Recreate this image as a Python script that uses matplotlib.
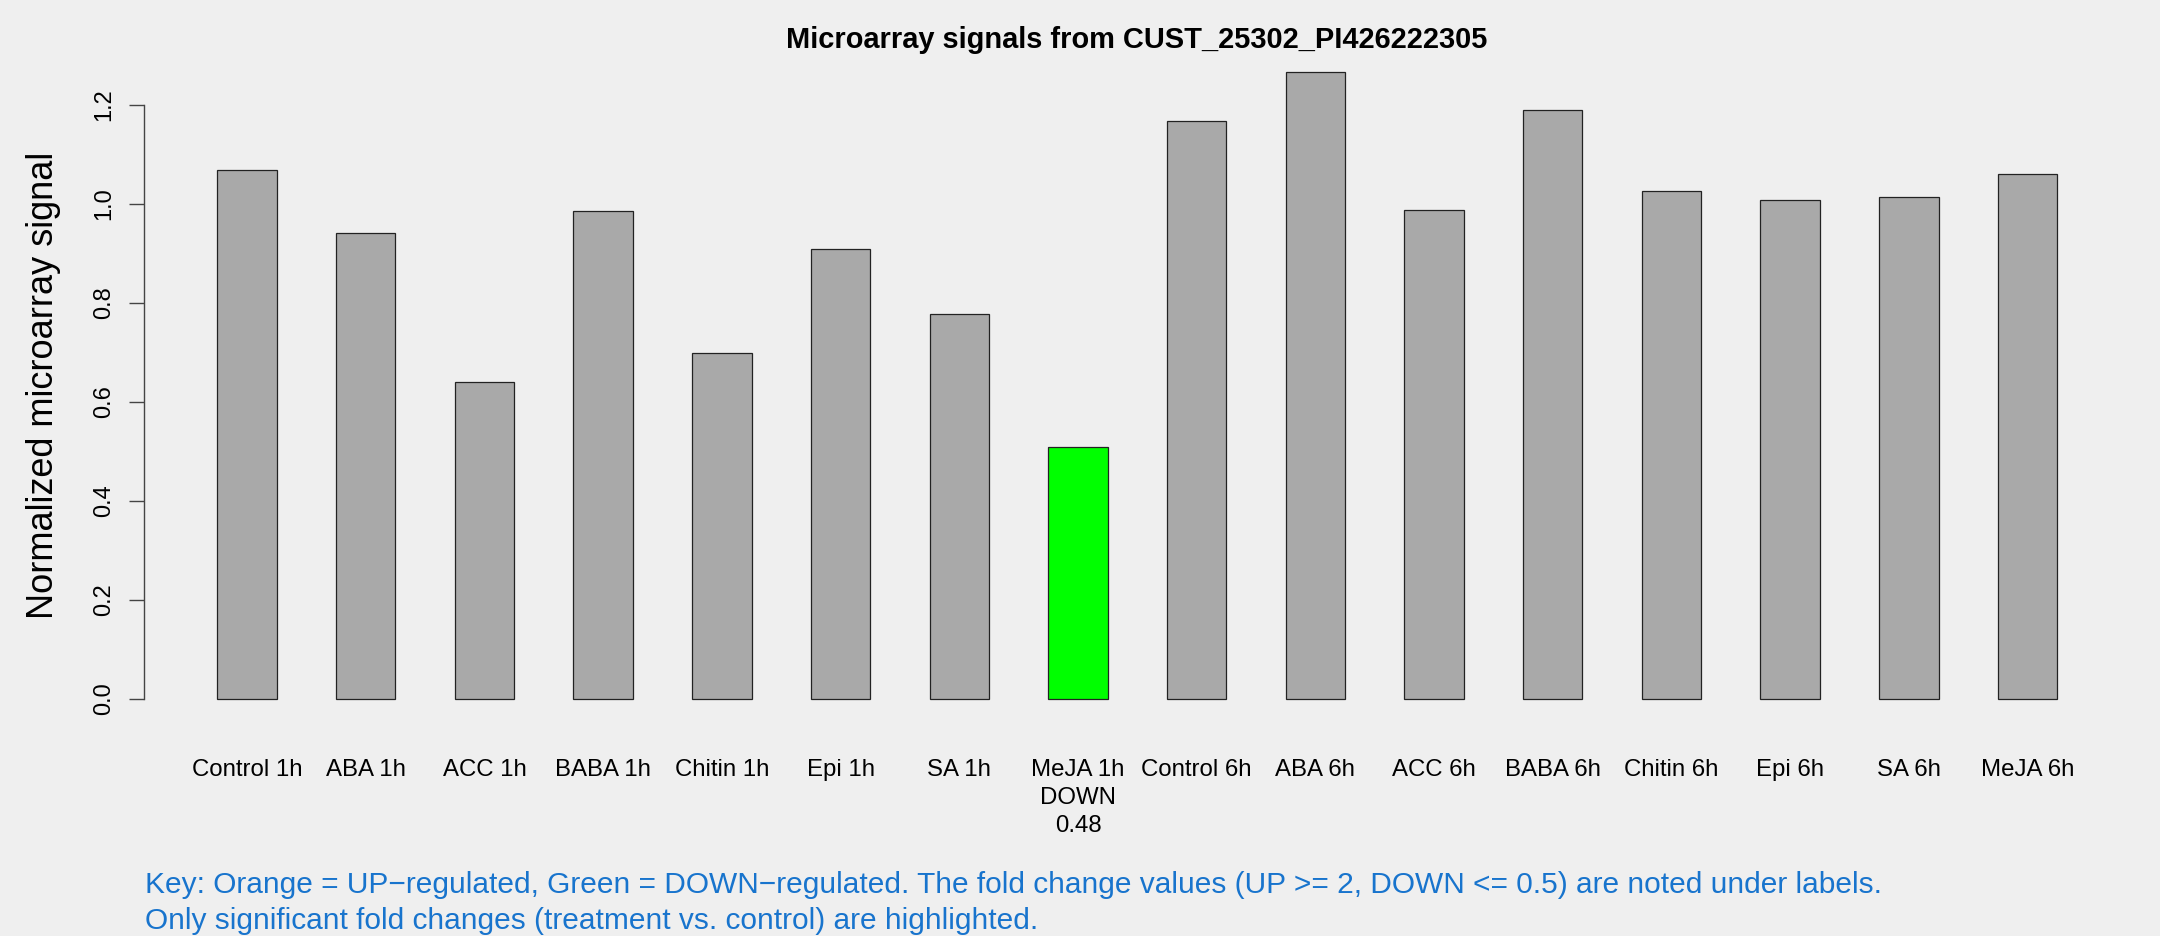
import matplotlib
matplotlib.use("Agg")
import matplotlib.pyplot as plt

plt.rcParams['font.family'] = ['Liberation Sans', 'DejaVu Sans']

labels = [
    "Control 1h", "ABA 1h", "ACC 1h", "BABA 1h",
    "Chitin 1h", "Epi 1h", "SA 1h", "MeJA 1h",
    "Control 6h", "ABA 6h", "ACC 6h", "BABA 6h",
    "Chitin 6h", "Epi 6h", "SA 6h", "MeJA 6h"
]

signals = [
    1.069, 0.940, 0.639, 0.986, 0.698, 0.908, 0.777, 0.509,
    1.168, 1.267, 0.988, 1.190, 1.026, 1.007, 1.013, 1.061
]

# significant calls noted under the labels
regulation = ["", "", "", "", "", "", "", "DOWN",
              "", "", "", "", "", "", "", ""]
fold_change = [None, None, None, None, None, None, None, 0.48,
               None, None, None, None, None, None, None, None]

y_ticks = [0.0, 0.2, 0.4, 0.6, 0.8, 1.0, 1.2]

title = "Microarray signals from CUST_25302_PI426222305"
key_lines = [
    "Key: Orange = UP\u2212regulated, Green = DOWN\u2212regulated. "
    "The fold change values (UP >= 2, DOWN <= 0.5) are noted under labels.",
    "Only significant fold changes (treatment vs. control) are highlighted."
]

bg = "#EFEFEF"
W, H = 2160, 936

colors = []
names = []
for lab, reg, fc in zip(labels, regulation, fold_change):
    if reg == "DOWN":
        colors.append("#00FF00")
    elif reg == "UP":
        colors.append("#FFA500")
    else:
        colors.append("#A9A9A9")
    if reg:
        names.append(f"{lab}\n{reg}\n{fc:.2f}")
    else:
        names.append(lab)

fig = plt.figure(figsize=(W / 100, H / 100), dpi=100, facecolor=bg)

left, right, top, bottom = 143.8, 2130.8, 46.3, 723.9
ax = fig.add_axes([left / W, 1 - bottom / H, (right - left) / W, (bottom - top) / H])
ax.set_facecolor(bg)

# R barplot layout: width 1, space 1
xpos = [1.5 + 2 * i for i in range(len(signals))]
ax.bar(xpos, signals, width=1.0, color=colors,
       edgecolor="#222222", linewidth=0.9)

ax.set_xlim(-0.24, 33.24)
ax.set_ylim(-0.0507, 1.318)

for s in ["top", "right", "bottom"]:
    ax.spines[s].set_visible(False)
ax.spines["left"].set_bounds(0, 1.2)
ax.spines["left"].set_color("#444444")
ax.spines["left"].set_linewidth(1.0)

ax.set_yticks(y_ticks)
ax.set_yticklabels([f"{t:.1f}" for t in y_ticks], rotation=90,
                   va="center", fontsize=17)
ax.tick_params(axis="y", length=14.7 * 0.72, width=1.0, color="#444444",
               pad=10)

ax.set_xticks(xpos)
ax.set_xticklabels(names, fontsize=17.3)
ax.tick_params(axis="x", length=0, pad=25)
for t in ax.get_xticklabels():
    t.set_linespacing(1.35)

fig.text(1137 / W, 1 - 40 / H, title, ha="center", va="center",
         fontsize=20.9, fontweight="bold")

fig.text(44 / W, 1 - 385 / H, "Normalized microarray signal",
         rotation=90, ha="center", va="center", fontsize=26)

fig.text(145 / W, 1 - 885 / H, key_lines[0], ha="left", va="center",
         fontsize=21.5, color="#1874CD")
fig.text(145 / W, 1 - 920.7 / H, key_lines[1], ha="left", va="center",
         fontsize=21.5, color="#1874CD")

fig.savefig("out.png", dpi=100, facecolor=bg)
